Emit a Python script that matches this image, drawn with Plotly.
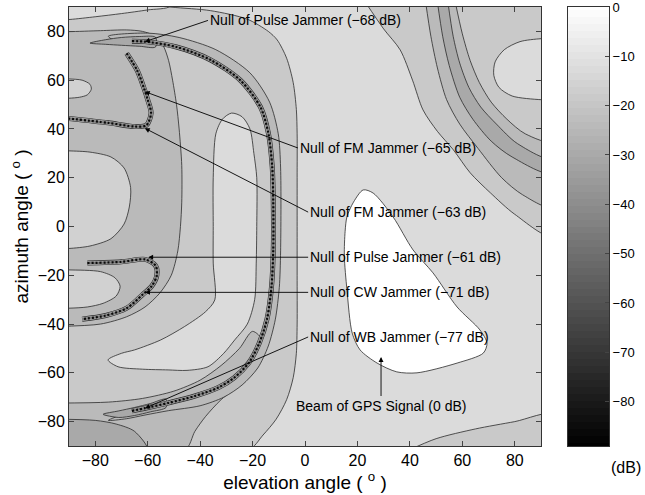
import numpy as np
import plotly.graph_objects as go

# ---------------- axis / colorbar data ----------------
x_ticks = [-80, -60, -40, -20, 0, 20, 40, 60, 80]
y_ticks = [-80, -60, -40, -20, 0, 20, 40, 60, 80]
cbar_ticks = [0, -10, -20, -30, -40, -50, -60, -70, -80]
cbar_min, cbar_max = -89, 0

# ---------------- contour regions (elevation, azimuth in deg) ----------------
left_valley_x = [-95, -51.5, -36, -22, -14, -10.6, -7, -4.5, -3.3, -3, -3, -3, -3, -3, -3.3, -4.5, -7, -11, -16, -22, -95]
left_valley_y = [95, 90, 88.5, 85, 80, 76.5, 69, 59, 48, 38, 20, 0, -20, -40, -52, -62, -71, -79, -85.5, -92, -95]

top_strip_x = [-95, -89.6, -80, -70, -60, -51.5, -51.5, -95]
top_strip_y = [84.7, 84.9, 86, 87.3, 88.8, 90.3, 95, 95]

hooks_x = [-95, -90, -78, -68, -62, -57, -54, -52, -50.5, -49, -48, -47, -47, -47.5, -48.5, -51, -55.3, -61, -68, -78, -95]
hooks_y = [80, 79.9, 80.3, 80.6, 80, 78, 74, 68, 60, 50, 40, 25, 10, 0, -10, -20, -27.2, -33, -37, -40, -41]

bottom_x = [-95, -75, -62, -50, -40, -32, -25, -20, -16, -18, -24, -32, -38, -42, -46, -95]
bottom_y = [-72.4, -72, -70.5, -67.5, -63, -57, -50, -43, -47, -56, -64, -71, -78, -84, -92, -95]

corner_bl_x = [-95, -80, -72, -65, -60, -95]
corner_bl_y = [-79, -79.5, -81, -84, -92, -95]

left_ellipse_x = [-95, -90, -82, -74, -69, -66.5, -67, -69, -74, -82, -90, -95]
left_ellipse_y = [31, 31, 30.5, 28.5, 24, 16, 8, 1, -5, -8, -9, -9]

top_ellipse_x = [-95, -90, -85, -82, -81.5, -83, -86, -90, -95]
top_ellipse_y = [60.5, 60.5, 60, 58.3, 56.3, 54, 53, 52.6, 52.6]

hook_ellipse_x = [-95, -90, -78, -72.5, -70.5, -72, -77, -83, -90, -95]
hook_ellipse_y = [-17.8, -17.8, -18.5, -21, -24.5, -28.5, -31.5, -33, -33.5, -33.5]

j_region_x = [-28, -24, -21, -19.5, -18.4, -18.4, -18.6, -19.2, -22, -26.8, -31, -37, -45, -52.2, -62, -71.3, -75.1, -70, -65, -55, -45.9, -38, -34.4, -35, -35, -35, -34, -31.5, -28]
j_region_y = [46.5, 45, 40, 30, 20, 0, -15, -30, -40, -46.5, -52, -57.5, -59, -58.8, -58.5, -57.5, -54.7, -52, -50.6, -46.5, -41, -35, -30.1, -15, 0, 20, 38, 44, 46.5]

arc_band_x = [-75, -60, -48, -34, -21, -13.5, -10.2, -9.3, -9.3, -9.8, -11.3, -14, -18, -24, -31, -40, -52, -61, -68, -75,
              -68, -61, -52, -42, -33, -27, -21.5, -17.5, -14.5, -12.8, -12.1, -12.1, -12.5, -14, -17, -24.7, -36, -49, -61, -72, -75]
arc_band_y = [78, 79.3, 77.5, 72.5, 63, 51, 38, 24, -10, -25, -38, -49, -58, -65, -70, -73.5, -75.5, -77.3, -78.8, -79.5,
              -76.5, -74.5, -72.3, -69.5, -66, -62, -56, -48, -38, -25, -9.6, 10, 24.4, 38.4, 49, 60, 68.3, 73.6, 75.8, 76, 78]

# tapering tongues at the ends of the main null
top_tongue_x = [-82, -76, -70, -63, -57, -57, -63, -70, -76, -82]
top_tongue_y = [75.2, 76.6, 77.5, 77.9, 77.6, 73.6, 73.9, 74.3, 74.7, 75.2]
bot_tongue_x = [-77, -71, -65, -59, -53, -53, -59, -65, -71, -77]
bot_tongue_y = [-77.0, -75.6, -74.2, -72.6, -70.8, -74.2, -76.0, -77.5, -78.3, -77.0]

beam_x = [22.2, 26, 33.6, 41.2, 48.8, 58, 66.7, 69.4, 68, 58, 42.7, 35, 27.5, 21, 18, 16, 15, 15.3, 16, 18.5, 22.2]
beam_y = [15, 13.7, 3.9, -9.6, -19, -33, -42.4, -47.8, -51.9, -56, -60, -59.6, -56, -50.6, -43.7, -26, -12, -2, 4, 10, 15]

corner_br_x = [39, 50, 65, 80, 95, 95]
corner_br_y = [-92, -87, -83, -80, -77, -95]

ring1_x = [23, 30, 36.3, 41, 45, 50.5, 56.6, 63, 70.7, 80, 95, 95]
ring1_y = [92, 81, 72.4, 60, 47.8, 39, 31.4, 22, 13.8, 5, -4, 95]
ring2_x = [46, 48, 50.5, 54, 59, 66, 75, 83, 95, 95]
ring2_y = [92, 78, 65, 52, 42, 32, 20, 13, 8, 95]
ring3_x = [50.5, 52.5, 55, 59, 64, 71, 79, 95, 95]
ring3_y = [92, 78, 66, 53, 44, 35, 28.5, 22, 95]
ring4_x = [54.5, 56.5, 59, 62.5, 67, 73, 81, 95, 95]
ring4_y = [92, 78, 67, 57, 49, 42, 34, 28, 95]
ring5_x = [57.3, 60, 63, 66.5, 71, 77, 84, 95, 95]
ring5_y = [92, 79, 68, 59, 51, 44, 38, 35, 95]
ring_ellipse_x = [95, 90, 82, 76, 72.5, 72, 74, 79, 90, 95]
ring_ellipse_y = [77, 77, 75.8, 72.5, 67.5, 62, 57, 53.5, 52, 52]

# null (deep minimum) paths
main_null_x = [-66, -61, -49, -36, -24.7, -17, -14, -12.5, -12.1, -12.1, -12.8, -14.5, -17.5, -21.5, -27, -33, -42, -52, -61, -66]
main_null_y = [76, 75.8, 73.6, 68.3, 60, 49, 38.4, 24.4, 10, -9.6, -25, -38, -48, -56, -62, -66, -69.5, -72.3, -74.5, -75.6]
fm_null_x = [-92, -75, -65, -60.5, -58.7, -60, -61.5, -64, -68]
fm_null_y = [44.5, 42.5, 41, 41.5, 46.5, 52, 57, 64, 71]
low_null_x = [-83, -70, -61, -57, -56.5, -58.5, -62, -68, -76, -85]
low_null_y = [-15, -14.5, -13.5, -16, -20, -24.5, -28, -33.5, -36.5, -38]

# annotations: (text, tip x, tip y, text x, text y)
ann_text = ["Null of Pulse Jammer (\u221268 dB)", "Null of FM Jammer (\u221265 dB)",
            "Null of FM Jammer (\u221263 dB)", "Null of Pulse Jammer (\u221261 dB)",
            "Null of CW Jammer (\u221271 dB)", "Null of WB Jammer (\u221277 dB)"]
ann_tip_x = [-61, -61.1, -61.1, -59.8, -61, -61]
ann_tip_y = [75.8, 55.3, 40.3, -12.6, -27.0, -74.5]
ann_txt_x = [-37.0, -2.7, 1.2, 1.2, 1.2, 1.2]
ann_txt_y = [84.5, 32.2, 5.9, -12.6, -27.0, -45.3]
gps_text = "Beam of GPS Signal (0 dB)"
gps_tip = (29, -53.5)
gps_txt = (29, -69.5)

# ---------------- colours ----------------
C_BG = '#dbdbdb'
C1 = '#c9c9c9'
C2 = '#bababa'
C3 = '#a9a9a9'
C_ISL = '#d1d1d1'
LINE = '#2b2b2b'

fig = go.Figure()

def region(xs, ys, color):
    fig.add_trace(go.Scatter(x=xs, y=ys, mode='lines', fill='toself', fillcolor=color,
                             line=dict(color=LINE, width=0.8, shape='spline', smoothing=0.8),
                             hoverinfo='skip', showlegend=False, xaxis='x', yaxis='y'))

fig.add_trace(go.Scatter(x=[-95, 95, 95, -95, -95], y=[-95, -95, 95, 95, -95], mode='lines', fill='toself',
                         fillcolor=C_BG, line=dict(width=0), hoverinfo='skip', showlegend=False))

region(left_valley_x, left_valley_y, C1)
region(top_strip_x, top_strip_y, C_BG)
region(hooks_x, hooks_y, C2)
region(bottom_x, bottom_y, C2)
region(corner_bl_x, corner_bl_y, C3)
region(left_ellipse_x, left_ellipse_y, C_ISL)
region(top_ellipse_x, top_ellipse_y, C_ISL)
region(hook_ellipse_x, hook_ellipse_y, C_ISL)
region(j_region_x, j_region_y, C_BG)
region(arc_band_x, arc_band_y, C2)
region(top_tongue_x, top_tongue_y, C3)
region(bot_tongue_x, bot_tongue_y, C3)
region(corner_br_x, corner_br_y, C1)
region(ring1_x, ring1_y, C1)
region(ring2_x, ring2_y, C2)
region(ring3_x, ring3_y, C3)
region(ring4_x, ring4_y, C2)
region(ring5_x, ring5_y, C1)
region(ring_ellipse_x, ring_ellipse_y, C_BG)
region(beam_x, beam_y, '#ffffff')

def null_path(xs, ys):
    for w, c, dash in [(5.0, LINE, 'solid'), (3.8, C3, 'solid'), (2.2, '#7a7a7a', 'solid'),
                       (2.2, '#0a0a0a', '2px,2px')]:
        fig.add_trace(go.Scatter(x=xs, y=ys, mode='lines',
                                 line=dict(color=c, width=w, dash=dash, shape='spline', smoothing=0.8),
                                 hoverinfo='skip', showlegend=False))

null_path(main_null_x, main_null_y)
null_path(fm_null_x, fm_null_y)
null_path(low_null_x, low_null_y)

# ---------------- colorbar (separate axes) ----------------
cb_vals = np.linspace(cbar_min, cbar_max, 64)
fig.add_trace(go.Heatmap(x=[0], y=cb_vals, z=[[v] for v in cb_vals], xaxis='x2', yaxis='y2',
                         colorscale=[[0, 'black'], [1, 'white']], zmin=cbar_min, zmax=cbar_max,
                         showscale=False, hoverinfo='skip'))

FONT = 'Arial, Liberation Sans, Helvetica, sans-serif'
annotations = []
for t, tx, ty, ax, ay in zip(ann_text, ann_tip_x, ann_tip_y, ann_txt_x, ann_txt_y):
    annotations.append(dict(x=tx, y=ty, ax=ax, ay=ay, xref='x', yref='y', axref='x', ayref='y',
                            text=t, showarrow=True, arrowhead=2, arrowsize=1.1, arrowwidth=0.9,
                            arrowcolor='black', xanchor='left', yanchor='middle',
                            font=dict(size=14, family=FONT, color='black')))
annotations.append(dict(x=gps_tip[0], y=gps_tip[1], ax=gps_txt[0], ay=gps_txt[1], xref='x', yref='y',
                        axref='x', ayref='y', text=gps_text, showarrow=True, arrowhead=2, arrowsize=1.1,
                        arrowwidth=0.9, arrowcolor='black', xanchor='center', yanchor='top',
                        font=dict(size=14, family=FONT, color='black')))

plot_w = 645 - 69 - 36
annotations.append(dict(x=(626 - 69) / plot_w, y=-0.05, xref='paper', yref='paper', text='(dB)',
                        showarrow=False, xanchor='center', yanchor='middle',
                        font=dict(size=16, family=FONT, color='black')))

fig.update_layout(
    width=645, height=495, margin=dict(l=69, r=36, t=7, b=49, autoexpand=False),
    paper_bgcolor='white', plot_bgcolor='white', showlegend=False,
    font=dict(family=FONT, size=16, color='black'),
    xaxis=dict(domain=[0, 472 / plot_w], range=[-90, 90], tickvals=x_ticks, ticks='inside', ticklen=5,
               showline=True, linecolor='#333', linewidth=1, mirror='ticks', showgrid=False, zeroline=False,
               automargin=False, title=dict(text='elevation angle ( <sup>o</sup> )', standoff=2),
               tickfont=dict(size=16)),
    yaxis=dict(domain=[0, 1], range=[-90, 90], tickvals=y_ticks, ticks='inside', ticklen=5,
               showline=True, linecolor='#333', linewidth=1, mirror='ticks', showgrid=False, zeroline=False,
               automargin=False, title=dict(text='azimuth angle ( <sup>o</sup> )', standoff=4),
               tickfont=dict(size=16)),
    xaxis2=dict(domain=[(568 - 69) / plot_w, (609 - 69) / plot_w], anchor='y2', range=[-0.5, 0.5],
                showticklabels=False, ticks='', showline=True, linecolor='#333', linewidth=1, mirror=True,
                showgrid=False, zeroline=False, automargin=False),
    yaxis2=dict(domain=[0, 1], anchor='x2', side='right', range=[cbar_min, cbar_max], tickvals=cbar_ticks,
                ticks='inside', ticklen=4, showline=True, linecolor='#333', linewidth=1, mirror=True,
                showgrid=False, zeroline=False, automargin=False, tickfont=dict(size=13),
                ticklabeloverflow='allow'),
    annotations=annotations,
)

fig.write_html("out.html", config={'displayModeBar': False},
               post_script="document.body.style.margin='0';document.body.style.padding='0';")
